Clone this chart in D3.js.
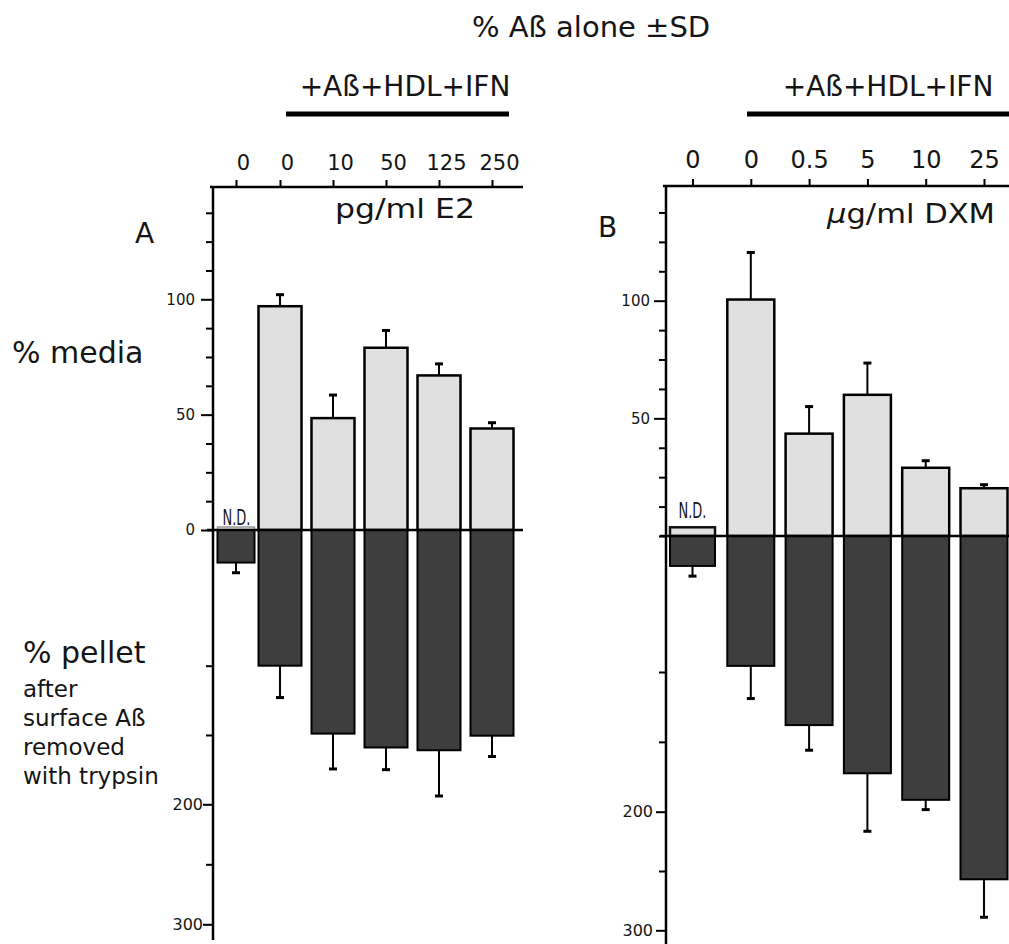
<!DOCTYPE html>
<html>
<head>
<meta charset="utf-8">
<script src="https://d3js.org/d3.v7.min.js"></script>
<style>
  body { margin: 0; background: #fff; }
  text { font-family: "DejaVu Sans", sans-serif; fill: #151515; }
</style>
</head>
<body>
<div id="chart"></div>
<script>
// panel A : estradiol (pg/ml E2)
var e2Labels    = ["0", "0", "10", "50", "125", "250"];
var e2Media     = [1.3, 97, 48.5, 79, 67, 44];
var e2MediaSd   = [0, 5, 10, 7.5, 5, 2.5];
var e2Pellet    = [24, 100, 149, 159, 161, 150.5];
var e2PelletSd  = [7.5, 23, 25.5, 16, 33, 15];

// panel B : dexamethasone (ug/ml DXM)
var dxmLabels   = ["0", "0", "0.5", "5", "10", "25"];
var dxmMedia    = [3.7, 100.5, 43.5, 60, 29, 20.3];
var dxmMediaSd  = [0, 20, 11.5, 13.5, 3, 1.5];
var dxmPellet   = [22, 95.5, 138, 172.5, 191.5, 257];
var dxmPelletSd = [7.5, 23.5, 18, 44, 7, 32];

// axis ticks
var mediaTicks  = [0, 12.5, 25, 37.5, 50, 62.5, 75, 87.5, 100, 112.5, 125, 137.5];
var pelletTicks = [100, 150, 200, 250, 300];
var pelletLabeled = [200, 300];

var W = 1009, H = 944;
var svg = d3.select("#chart").append("svg")
  .attr("width", W).attr("height", H);

var panels = [
  { key: "A", labels: e2Labels, media: e2Media, mediaSd: e2MediaSd,
    pellet: e2Pellet, pelletSd: e2PelletSd, mediaLabeled: [0, 50, 100],
    axisX: 213, zero: 530, top: 187, right: 523, bottom: 940,
    xDom: [0, 1, 5], xRange: [236, 280, 492],
    mediaRange: [530, 299.3], pelletRange: [530, 665.7, 804.3, 924.3],
    w: 43, w0: 37, ndStroke: "#9a9a9a", tickFont: 21, tickPad: 10, tickDx: 7,
    padM: 11, padP: 3,
    bar: [286, 509], treatX: 405, ndY: 525, ndX: 236.5,
    letter: { x: 135, y: 243 } },
  { key: "B", labels: dxmLabels, media: dxmMedia, mediaSd: dxmMediaSd,
    pellet: dxmPellet, pelletSd: dxmPelletSd, mediaLabeled: [50, 100],
    axisX: 666, zero: 536, top: 186, right: W, bottom: H,
    xDom: [0, 5], xRange: [692.5, 984],
    mediaRange: [536, 300.7], pelletRange: [536, 672, 811.7, 930.3],
    w: 47, w0: 45, ndStroke: "#111", tickFont: 24, tickPad: 11, tickDx: 0,
    padM: 9, padP: 6,
    bar: [747, W], treatX: 888, ndY: 518, ndX: 692.5,
    letter: { x: 598, y: 237 } }
];

panels.forEach(function(p) {
  var g = svg.append("g");
  var x = d3.scaleLinear().domain(p.xDom).range(p.xRange);
  var yM = d3.scaleLinear().domain([0, 100]).range(p.mediaRange);
  var yP = d3.scaleLinear().domain([0, 100, 200, 300]).range(p.pelletRange);
  var idx = d3.range(p.labels.length);
  var bw = function(i) { return i === 0 ? p.w0 : p.w; };

  // light bars (% media)
  g.selectAll(".media").data(idx).enter().append("rect")
    .attr("x", function(i) { return x(i) - bw(i) / 2; })
    .attr("y", function(i) { return yM(p.media[i]); })
    .attr("width", bw)
    .attr("height", function(i) { return p.zero - yM(p.media[i]); })
    .attr("fill", "#e0e0e0")
    .attr("stroke", function(i) { return i === 0 ? p.ndStroke : "#000"; })
    .attr("stroke-width", function(i) { return i === 0 && p.key === "A" ? 1.5 : 2.5; });

  // dark bars (% pellet)
  g.selectAll(".pellet").data(idx).enter().append("rect")
    .attr("x", function(i) { return x(i) - bw(i) / 2; })
    .attr("y", p.zero)
    .attr("width", bw)
    .attr("height", function(i) { return yP(p.pellet[i]) - p.zero; })
    .attr("fill", "#3e3e3e")
    .attr("stroke", "#000")
    .attr("stroke-width", 2);

  // error bars up
  var up = idx.filter(function(i) { return p.mediaSd[i] > 0; });
  g.selectAll(".eu").data(up).enter().append("line")
    .attr("x1", x).attr("x2", x)
    .attr("y1", function(i) { return yM(p.media[i]); })
    .attr("y2", function(i) { return yM(p.media[i] + p.mediaSd[i]); })
    .attr("stroke", "#000").attr("stroke-width", 2);
  g.selectAll(".cu").data(up).enter().append("line")
    .attr("x1", function(i) { return x(i) - 4; })
    .attr("x2", function(i) { return x(i) + 4; })
    .attr("y1", function(i) { return yM(p.media[i] + p.mediaSd[i]); })
    .attr("y2", function(i) { return yM(p.media[i] + p.mediaSd[i]); })
    .attr("stroke", "#000").attr("stroke-width", 3);

  // error bars down
  g.selectAll(".ed").data(idx).enter().append("line")
    .attr("x1", x).attr("x2", x)
    .attr("y1", function(i) { return yP(p.pellet[i]); })
    .attr("y2", function(i) { return yP(p.pellet[i] + p.pelletSd[i]); })
    .attr("stroke", "#000").attr("stroke-width", 2);
  g.selectAll(".cd").data(idx).enter().append("line")
    .attr("x1", function(i) { return x(i) - 4; })
    .attr("x2", function(i) { return x(i) + 4; })
    .attr("y1", function(i) { return yP(p.pellet[i] + p.pelletSd[i]); })
    .attr("y2", function(i) { return yP(p.pellet[i] + p.pelletSd[i]); })
    .attr("stroke", "#000").attr("stroke-width", 3);

  // zero line
  g.append("line")
    .attr("x1", p.axisX - 6).attr("x2", p.right)
    .attr("y1", p.zero).attr("y2", p.zero)
    .attr("stroke", "#000").attr("stroke-width", 2.5);

  // left axis, media part
  var am = g.append("g").attr("transform", "translate(" + p.axisX + ",0)")
    .call(d3.axisLeft(yM).tickValues(mediaTicks).tickSize(7).tickPadding(p.padM)
      .tickFormat(function(d) { return p.mediaLabeled.indexOf(d) >= 0 ? d : ""; }));
  am.select(".domain").remove();
  am.selectAll(".tick line").attr("stroke-width", 2)
    .attr("x2", function(d) { return p.mediaLabeled.indexOf(d) >= 0 ? -12 : -7; });
  am.selectAll("text").attr("font-size", 15).attr("font-family", "DejaVu Sans").attr("fill", "#222");

  // left axis, pellet part
  var ap = g.append("g").attr("transform", "translate(" + p.axisX + ",0)")
    .call(d3.axisLeft(yP).tickValues(pelletTicks).tickSize(7).tickPadding(p.padP)
      .tickFormat(function(d) { return pelletLabeled.indexOf(d) >= 0 ? d : ""; }));
  ap.select(".domain").remove();
  ap.selectAll(".tick line").attr("stroke-width", 2)
    .attr("x2", function(d) { return pelletLabeled.indexOf(d) >= 0 ? -10 : -7; });
  ap.selectAll("text").attr("font-size", 16).attr("font-family", "DejaVu Sans").attr("fill", "#222");

  // y axis line
  g.append("line")
    .attr("x1", p.axisX).attr("x2", p.axisX)
    .attr("y1", p.top - 1).attr("y2", p.bottom)
    .attr("stroke", "#000").attr("stroke-width", 2.5);

  // top axis with concentrations
  var at = g.append("g").attr("transform", "translate(0," + p.top + ")")
    .call(d3.axisTop(x).tickValues(idx).tickSize(7).tickPadding(p.tickPad)
      .tickFormat(function(i) { return p.labels[i]; }));
  at.select(".domain").remove();
  at.selectAll(".tick line").attr("stroke-width", 2);
  at.selectAll("text").attr("font-size", p.tickFont).attr("font-family", "DejaVu Sans")
    .attr("fill", "#151515").attr("dx", p.tickDx);
  g.append("line")
    .attr("x1", p.axisX - 3).attr("x2", p.right)
    .attr("y1", p.top).attr("y2", p.top)
    .attr("stroke", "#000").attr("stroke-width", 2.5);

  // treatment bar + label
  g.append("line")
    .attr("x1", p.bar[0]).attr("x2", p.bar[1])
    .attr("y1", 114).attr("y2", 114)
    .attr("stroke", "#000").attr("stroke-width", 5);
  g.append("text")
    .attr("x", p.treatX).attr("y", 96)
    .attr("text-anchor", "middle").attr("font-size", 28)
    .text("+Aß+HDL+IFN");

  // N.D.
  g.append("text")
    .attr("x", p.ndX).attr("y", p.ndY)
    .attr("text-anchor", "middle").attr("font-size", 21)
    .attr("textLength", 28).attr("lengthAdjust", "spacingAndGlyphs")
    .attr("fill", "#222")
    .text("N.D.");

  // panel letter
  g.append("text")
    .attr("x", p.letter.x).attr("y", p.letter.y)
    .attr("font-size", 28).text(p.key);
});

// unit labels
svg.append("text").attr("x", 335).attr("y", 218)
  .attr("font-size", 26).attr("textLength", 140).attr("lengthAdjust", "spacingAndGlyphs")
  .text("pg/ml E2");
var dxm = svg.append("text").attr("x", 827).attr("y", 223)
  .attr("font-size", 27).attr("textLength", 168).attr("lengthAdjust", "spacingAndGlyphs");
dxm.append("tspan").attr("font-style", "italic").text("µ");
dxm.append("tspan").text("g/ml DXM");

// title and side labels
svg.append("text").attr("x", 472).attr("y", 37)
  .attr("font-size", 29).text("% Aß alone ±SD");
svg.append("text").attr("x", 12).attr("y", 363)
  .attr("font-size", 30).text("% media");
svg.append("text").attr("x", 23).attr("y", 663)
  .attr("font-size", 30).text("% pellet");
["after", "surface Aß", "removed", "with trypsin"].forEach(function(s, i) {
  svg.append("text").attr("x", 23).attr("y", 697 + i * 29)
    .attr("font-size", 23).text(s);
});
</script>
</body>
</html>
